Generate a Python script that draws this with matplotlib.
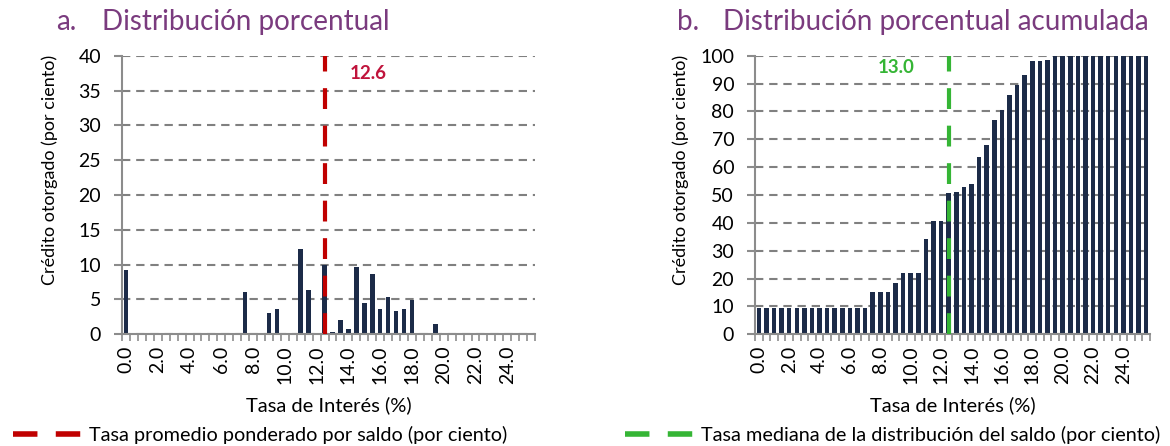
import matplotlib.pyplot as plt
from matplotlib.lines import Line2D

plt.rcParams['font.family'] = ['Lato', 'DejaVu Sans']

# tasas de interes (categorias, paso de 0.5)
tasas = [0.0, 0.5, 1.0, 1.5, 2.0, 2.5, 3.0, 3.5, 4.0, 4.5, 5.0, 5.5, 6.0,
         6.5, 7.0, 7.5, 8.0, 8.5, 9.0, 9.5, 10.0, 10.5, 11.0, 11.5, 12.0,
         12.5, 13.0, 13.5, 14.0, 14.5, 15.0, 15.5, 16.0, 16.5, 17.0, 17.5,
         18.0, 18.5, 19.0, 19.5, 20.0, 20.5, 21.0, 21.5, 22.0, 22.5, 23.0,
         23.5, 24.0, 24.5, 25.0, 25.5]

distribucion = [9.3, 0, 0, 0, 0, 0, 0, 0, 0, 0, 0, 0, 0, 0, 0, 6.1, 0, 0,
                3.1, 3.6, 0, 0, 12.2, 6.3, 0.1, 9.9, 0.3, 2.0, 0.8, 9.7, 4.5,
                8.6, 3.6, 5.4, 3.4, 3.7, 4.9, 0, 0.2, 1.5, 0, 0, 0, 0, 0, 0,
                0, 0, 0, 0, 0, 0]

acumulada = [9.3, 9.3, 9.3, 9.3, 9.3, 9.3, 9.3, 9.3, 9.3, 9.3, 9.3, 9.3,
             9.3, 9.3, 9.3, 15.3, 15.3, 15.3, 18.5, 22.1, 22.1, 22.1, 34.3,
             40.8, 40.8, 50.7, 51.0, 53.0, 53.8, 63.6, 68.1, 76.8, 80.4, 85.9,
             89.4, 93.2, 98.1, 98.1, 98.4, 100, 100, 100, 100, 100, 100, 100,
             100, 100, 100, 100, 100, 100]

etiquetas_x = ['0.0', '2.0', '4.0', '6.0', '8.0', '10.0', '12.0', '14.0',
               '16.0', '18.0', '20.0', '22.0', '24.0']
ticks_x = [0.0, 2.0, 4.0, 6.0, 8.0, 10.0, 12.0, 14.0, 16.0, 18.0, 20.0,
           22.0, 24.0]

tasa_promedio = 12.6
tasa_mediana = 13.0
bin_lineas = 12.5   # categoria donde Excel dibuja las lineas

navy = '#1c2b48'
gris = '#8c8c8c'
rojo = '#c00000'
verde = '#35b535'
morado = '#7a3b7e'

fig = plt.figure(figsize=(11.7, 4.46), dpi=100)
ax1 = fig.add_axes([0.1043, 0.2504, 0.353, 0.6247])
ax2 = fig.add_axes([0.6453, 0.2504, 0.3376, 0.6247])


def estilo(ax, ymax, paso):
    ax.set_xlim(-0.25, 25.75)
    ax.set_ylim(0, ymax)
    ax.set_yticks(range(0, ymax + 1, paso))
    ax.yaxis.grid(True, color='#808080', linestyle=(0, (4, 2.8)), linewidth=1.5)
    ax.set_axisbelow(True)
    for s in ['top', 'right']:
        ax.spines[s].set_visible(False)
    for s in ['left', 'bottom']:
        ax.spines[s].set_color(gris)
        ax.spines[s].set_linewidth(1.5)
    ax.set_xticks(ticks_x)
    ax.set_xticklabels(etiquetas_x, rotation=90, fontsize=14)
    ax.set_xticks([t + 0.25 for t in tasas[:-1]] + [-0.25, 25.75], minor=True)
    ax.tick_params(axis='x', which='major', length=0, pad=8)
    ax.tick_params(axis='x', which='minor', length=5, width=1.2, color=gris)
    ax.tick_params(axis='y', length=6, width=1.5, color=gris, labelsize=14, pad=9)
    ax.set_xlabel('Tasa de Interés (%)', fontsize=14.5, labelpad=9)
    ax.set_ylabel('Crédito otorgado (por ciento)', fontsize=13)


ax1.bar(tasas, distribucion, width=0.29, color=navy, zorder=2)
estilo(ax1, 40, 5)
ax1.axvline(bin_lineas, color=rojo, linewidth=3, linestyle=(0, (5, 4)), zorder=3)
ax1.text(14.1, 37.5, f'{tasa_promedio:.1f}', color='#c0143c',
         fontsize=13.5, fontweight='bold', va='center')
ax1.yaxis.set_label_coords(-0.155, 0.59)

ax2.bar(tasas, acumulada, width=0.3, color=navy, zorder=2)
estilo(ax2, 100, 10)
ax2.axvline(bin_lineas, color=verde, linewidth=3, linestyle=(0, (5, 4)), zorder=3)
ax2.text(7.85, 95.9, f'{tasa_mediana:.1f}', color=verde,
         fontsize=13.5, fontweight='bold', va='center')
ax2.yaxis.set_label_coords(-0.167, 0.59)

# titulos de los paneles
fig.text(56 / 1170, 1 - 22 / 446, 'a.', color=morado, fontsize=20, va='center')
fig.text(102 / 1170, 1 - 22 / 446, 'Distribución porcentual', color=morado,
         fontsize=20, va='center')
fig.text(677 / 1170, 1 - 22 / 446, 'b.', color=morado, fontsize=20, va='center')
fig.text(723 / 1170, 1 - 22 / 446, 'Distribución porcentual acumulada',
         color=morado, fontsize=20, va='center')

# leyendas
h1 = Line2D([], [], color=rojo, linewidth=4, linestyle=(0, (4.4, 3.3)))
h2 = Line2D([], [], color=verde, linewidth=4, linestyle=(0, (4.4, 3.3)))
fig.legend([h1], ['Tasa promedio ponderado por saldo (por ciento)'],
           loc='center left', bbox_to_anchor=(13 / 1170, 11 / 446),
           frameon=False, fontsize=14.3, handlelength=3.4,
           handletextpad=0.45, borderpad=0, borderaxespad=0)
fig.legend([h2], ['Tasa mediana de la distribución del saldo (por ciento)'],
           loc='center left', bbox_to_anchor=(625 / 1170, 11 / 446),
           frameon=False, fontsize=14.3, handlelength=3.4,
           handletextpad=0.45, borderpad=0, borderaxespad=0)

fig.savefig('out.png', dpi=100)
